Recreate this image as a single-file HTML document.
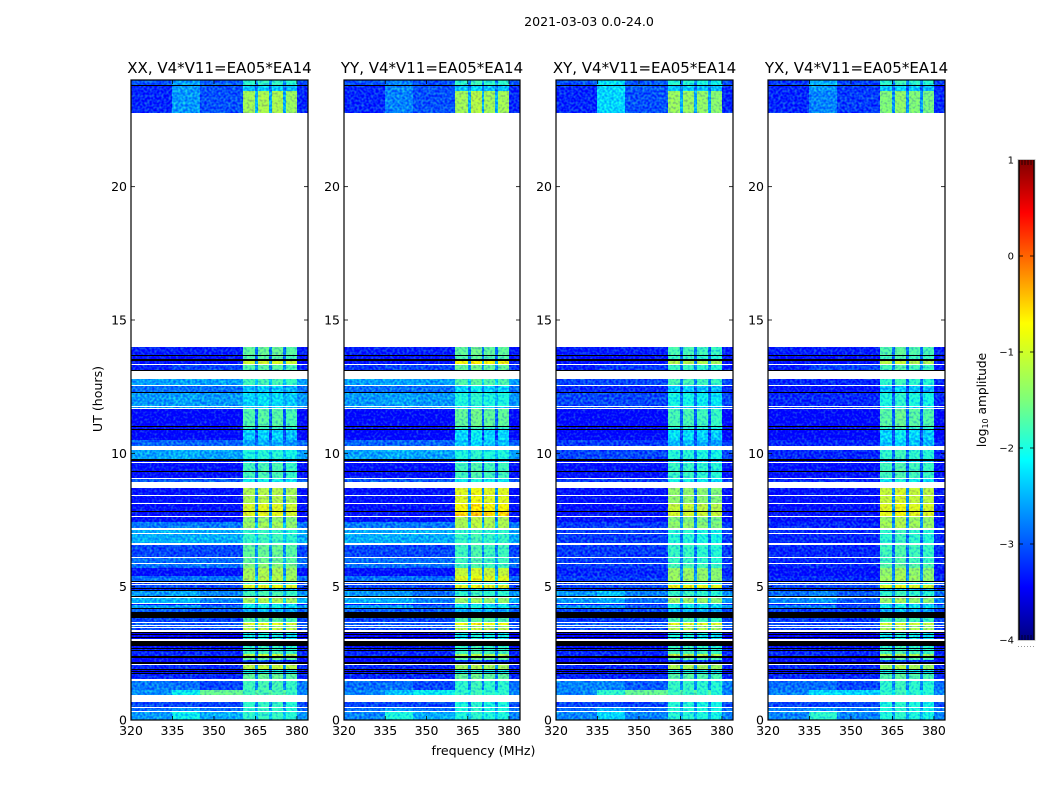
<!DOCTYPE html>
<html lang="en">
<head>
<meta charset="utf-8">
<title>2021-03-03 0.0-24.0</title>
<style>
html,body{margin:0;padding:0;background:#fff;width:1050px;height:800px;overflow:hidden}
svg{display:block}
text{font-family:"DejaVu Sans","Liberation Sans",sans-serif;fill:#000}
</style>
</head>
<body>
<svg id="figure" xmlns="http://www.w3.org/2000/svg" width="1050" height="800" viewBox="0 0 1050 800">
<defs>
<filter id="speckle" x="0" y="0" width="1" height="1" color-interpolation-filters="sRGB">
<feTurbulence type="fractalNoise" baseFrequency="0.42" numOctaves="1" seed="7" result="n"/>
<feColorMatrix in="n" type="matrix" values="0.8 0 0 0 0.1  2 0 0 0 -0.55  -0.6 0 0 0 0.8  0 0 0 0 1" result="nc"/>
<feComposite in="SourceGraphic" in2="nc" operator="arithmetic" k1="0" k2="1" k3="0.5" k4="-0.25" result="mix"/>
<feComposite in="mix" in2="SourceGraphic" operator="in"/>
</filter>
<linearGradient id="jet-gradient" x1="0" y1="0" x2="0" y2="1">
<stop offset="0" stop-color="#800000"/>
<stop offset="0.11" stop-color="#ff0000"/>
<stop offset="0.34" stop-color="#ffff00"/>
<stop offset="0.36" stop-color="#f0ff07"/>
<stop offset="0.5" stop-color="#7dff7a"/>
<stop offset="0.625" stop-color="#00ffff"/>
<stop offset="0.65" stop-color="#00e5ff"/>
<stop offset="0.89" stop-color="#0000ff"/>
<stop offset="1" stop-color="#000080"/>
</linearGradient>
</defs>
<rect x="0" y="0" width="1050" height="800" fill="#fff"/>
<text x="589" y="26" font-size="12.6" text-anchor="middle">2021-03-03 0.0-24.0</text>
<text x="483.500" y="755" font-size="12.6" text-anchor="middle">frequency (MHz)</text>
<text x="0" y="0" font-size="12.6" text-anchor="middle" transform="translate(102 399) rotate(-90)">UT (hours)</text>
<g id="panels"></g>
<g id="colorbar"></g>
</svg>
<script>
// ---------- shared data ----------
const panelTitles = ["XX, V4*V11=EA05*EA14", "YY, V4*V11=EA05*EA14", "XY, V4*V11=EA05*EA14", "YX, V4*V11=EA05*EA14"];
const xTickLabels = [320, 335, 350, 365, 380];
const yTickLabels = [0, 5, 10, 15, 20];
const colorbarTicks = [1, 0, -1, -2, -3, -4];

// Channel groups: MHz edges and which level column each group reads
const channelEdges = [320, 335, 345, 360.4, 365, 366, 370, 371, 375, 376, 380, 384];
const channelKinds = ["low", "mid", "far", "b0", "gap", "b1", "gap", "b2", "gap", "b3", "low"];

// Time rows: top edge in hours; d = data, k = flagged black, w = no data white
const rowTopHours = [24,23.81,23.78,23.59,22.76,13.97,13.69,13.65,13.52,13.46,13.35,13.31,13.13,13.09,12.79,12.58,12.54,12.3,12.27,11.79,11.75,11.7,11.66,11.03,10.99,10.9,10.86,10.5,10.28,10.13,9.79,9.72,9.68,9.64,9.34,9.3,9.08,9.04,8.93,8.7,8.44,8.4,8.14,8.1,7.84,7.8,7.65,7.61,7.43,7.2,7.13,7.01,6.98,6.64,6.56,6.11,6.08,5.89,5.85,5.7,5.4,5.21,5.18,5.14,5.1,5.06,4.95,4.91,4.88,4.84,4.65,4.61,4.58,4.39,4.35,4.31,4.2,4.16,4.05,3.83,3.68,3.64,3.56,3.53,3.49,3.45,3.38,3.3,3.26,3.23,3.19,3.11,3.08,3.04,2.96,2.78,2.7,2.66,2.63,2.59,2.48,2.4,2.33,2.25,2.18,2.1,2.06,1.91,1.88,1.84,1.8,1.76,1.73,1.54,1.46,1.13,0.94,0.68,0.49,0.45,0.34,0.3];
const rowFlags = "dkddwdkdkdwdkwdwdkdwdwdkdkddwdkdwdkdwdwdwdwdkdwddwdwdwdwdwdddkwdwdkdkdkwdwddkdkdwdwdwdwkdkdkdwkdkdkddkddkwdkdkdkdwddwdwdwd".split("");

// log10 amplitude per data row, top to bottom: [320-335, 335-345, 345-360, high band]
const levelsXX = [[-2.95,-2.55,-2.9,-2],[-3.15,-2.6,-2.95,-2.4],[-3.15,-2.6,-2.95,-1.3],[-3.2,-3.2,-3.2,-1.7],[-3.25,-3.25,-3.25,-1.8],[-3.25,-3.25,-3.25,-1.05],[-3.2,-3,-3,-1.8],[-2.55,-2.55,-2.55,-1.9],[-2.8,-2.8,-2.8,-2.4],[-2.6,-2.55,-2.6,-2.3],[-2.65,-2.65,-2.65,-2.4],[-3.3,-3.3,-3.3,-1.8],[-3.25,-3.25,-3.25,-2],[-3.3,-3.3,-3.3,-2.35],[-2.85,-2.85,-2.85,-2.55],[-2.55,-2.5,-2.55,-2.1],[-3.25,-3.25,-3.25,-2.5],[-3.25,-3.25,-3.25,-1.9],[-3.25,-3.25,-3.25,-1.9],[-2.9,-2.9,-2.9,-2.2],[-3.25,-3.25,-3.25,-1.25],[-3.25,-3.25,-3.25,-1.25],[-3.25,-3.25,-3.25,-1],[-3.25,-3.25,-3.25,-0.95],[-3.25,-3.25,-3.25,-1.45],[-2.75,-2.75,-2.75,-1.35],[-2.5,-2.5,-2.5,-2],[-2.5,-2.5,-2.5,-1.95],[-3,-3,-3,-1.7],[-2.8,-2.8,-2.8,-1.7],[-2.8,-2.8,-2.8,-1.5],[-3.25,-3.25,-3.25,-1.3],[-2.8,-2.8,-2.8,-1.25],[-3,-3,-3,-2],[-3,-3,-3,-0.95],[-3.15,-3.15,-3.15,-2.5],[-2.6,-2.5,-2.7,-1.9],[-2.45,-2.45,-2.7,-1.3],[-3.25,-3.25,-3.25,-2.4],[-2.55,-2.55,-2.8,-2.2],[-2.9,-2.9,-2.9,-2.5],[-3,-3,-3,-1.8],[-2.9,-2.9,-2.9,-0.95],[-2.9,-2.9,-2.9,-1.5],[-3,-3,-3,-1.15],[-3.45,-3.45,-3.45,-2.2],[-3.45,-3.45,-3.45,-2.2],[-3.45,-3.45,-3.45,-2.2],[-3.25,-3.25,-3.25,-2],[-3.15,-3.15,-3.15,-2],[-3.15,-3.15,-3.15,-1.9],[-3.15,-3.15,-3.15,-1.15],[-3.3,-3.3,-3.3,-1.7],[-3.3,-3.3,-3.3,-3],[-3.15,-3.15,-3.15,-1.15],[-3.25,-3.25,-3.25,-2.2],[-3.25,-3.25,-3.25,-2.2],[-3.15,-3.15,-3.15,-1.7],[-2.75,-2.8,-3,-1.9],[-2.65,-2.2,-1.65,-1.9],[-3,-3,-3,-2],[-2.8,-2.6,-2.8,-2],[-2.6,-2.2,-2.5,-2]];
const levelsYY = [[-2.95,-2.7,-2.95,-2],[-3.15,-2.7,-2.95,-2.4],[-3.15,-2.7,-2.95,-1.3],[-3.2,-3.2,-3.2,-1.7],[-3.25,-3.25,-3.25,-1.8],[-3.25,-3.25,-3.25,-0.8],[-3.1,-3,-3,-1.7],[-2.55,-2.55,-2.55,-1.8],[-2.8,-2.8,-2.8,-2.3],[-2.6,-2.55,-2.6,-2.1],[-2.65,-2.65,-2.65,-2.3],[-3.3,-3.3,-3.3,-1.7],[-3.25,-3.25,-3.25,-2],[-3.3,-3.3,-3.3,-2.3],[-2.85,-2.85,-2.85,-2.4],[-2.55,-2.5,-2.55,-2.1],[-3.25,-3.25,-3.25,-2.4],[-3.25,-3.25,-3.25,-1.9],[-3.25,-3.25,-3.25,-1.9],[-2.9,-2.9,-2.9,-2.2],[-3.25,-3.25,-3.25,-0.95],[-3.25,-3.25,-3.25,-0.95],[-3.25,-3.25,-3.25,-0.8],[-3.25,-3.25,-3.25,-0.6],[-3.25,-3.25,-3.25,-1.25],[-2.75,-2.75,-2.75,-1.25],[-2.5,-2.5,-2.5,-2],[-2.5,-2.5,-2.5,-1.95],[-3,-3,-3,-1.9],[-2.8,-2.8,-2.8,-1.9],[-2.8,-2.8,-2.8,-1.9],[-3.25,-3.25,-3.25,-1.1],[-2.8,-2.8,-2.8,-0.95],[-3,-3,-3,-2.1],[-3,-3,-3,-0.95],[-3.15,-3.15,-3.15,-2.5],[-2.6,-2.6,-2.8,-2],[-2.5,-2.5,-2.7,-1.4],[-3.25,-3.25,-3.25,-2.4],[-2.55,-2.55,-2.8,-2.2],[-2.9,-2.9,-2.9,-2.5],[-3,-3,-3,-1.8],[-2.9,-2.9,-2.9,-0.85],[-2.9,-2.9,-2.9,-1.5],[-3,-3,-3,-1.15],[-3.45,-3.45,-3.45,-2.2],[-3.45,-3.45,-3.45,-2.2],[-3.45,-3.45,-3.45,-2.2],[-3.25,-3.25,-3.25,-2],[-3.15,-3.15,-3.15,-2],[-3.15,-3.15,-3.15,-1.9],[-3.15,-3.15,-3.15,-1.25],[-3.3,-3.3,-3.3,-1.7],[-3.3,-3.3,-3.3,-3],[-3.15,-3.15,-3.15,-1.3],[-3.25,-3.25,-3.25,-2.2],[-3.25,-3.25,-3.25,-2.2],[-3.15,-3.15,-3.15,-1.7],[-2.8,-2.8,-3,-2],[-2.7,-2.4,-2.2,-2],[-3,-3,-3,-2.1],[-2.8,-2.6,-2.8,-2.1],[-2.7,-2.1,-2.5,-2.1]];
const levelsXY = [[-2.95,-2.25,-2.9,-2.1],[-3.15,-2.3,-2.9,-2.4],[-3.15,-2.3,-2.95,-1.4],[-3.2,-3.2,-3.2,-1.9],[-3.25,-3.25,-3.25,-2],[-3.25,-3.25,-3.25,-1.25],[-3.2,-3.05,-3.05,-2],[-3,-3,-3,-1.9],[-3.15,-3.15,-3.15,-2.4],[-3,-3,-3,-2.2],[-3,-3,-3,-2.4],[-3.3,-3.3,-3.3,-1.9],[-3.25,-3.25,-3.25,-2.1],[-3.3,-3.3,-3.3,-2.3],[-3.05,-3.05,-3.05,-2.5],[-3,-3,-3,-2.1],[-3.25,-3.25,-3.25,-2.4],[-3.25,-3.25,-3.25,-2],[-3.25,-3.25,-3.25,-2],[-3.05,-3.05,-3.05,-2.2],[-3.25,-3.25,-3.25,-1.45],[-3.25,-3.25,-3.25,-1.45],[-3.25,-3.25,-3.25,-1.15],[-3.25,-3.25,-3.25,-1.05],[-3.25,-3.25,-3.25,-1.55],[-3.05,-3.05,-3.05,-1.45],[-3.05,-3.05,-3.05,-2.1],[-3.05,-3.05,-3.05,-2.1],[-3.05,-3.05,-3.05,-2],[-3.05,-3.05,-3.05,-2],[-3.05,-3.05,-3.05,-1.9],[-3.15,-3.15,-3.15,-1.4],[-3.05,-3.05,-3.05,-1.4],[-3,-3,-3,-2.1],[-3,-3,-3,-0.9],[-3.15,-3.15,-3.15,-2.5],[-2.6,-2.4,-2.7,-2],[-2.6,-2.5,-2.8,-1.4],[-3.25,-3.25,-3.25,-2.4],[-2.6,-2.6,-2.9,-2.2],[-3,-3,-3,-2.5],[-3.05,-3.05,-3.05,-1.9],[-2.9,-2.9,-2.9,-0.95],[-2.9,-2.9,-2.9,-1.5],[-3,-3,-3,-1.25],[-3.45,-3.45,-3.45,-2.2],[-3.45,-3.45,-3.45,-2.2],[-3.45,-3.45,-3.45,-2.2],[-3.25,-3.25,-3.25,-2],[-3.15,-3.15,-3.15,-2],[-3.15,-3.15,-3.15,-1.9],[-3.15,-3.15,-3.15,-1.15],[-3.3,-3.3,-3.3,-1.8],[-3.3,-3.3,-3.3,-3],[-3.15,-3.15,-3.15,-1.3],[-3.25,-3.25,-3.25,-2.2],[-3.25,-3.25,-3.25,-2.2],[-3.15,-3.15,-3.15,-1.8],[-2.7,-2.7,-2.9,-2],[-2.7,-2,-1.65,-2],[-3,-3,-3,-2.1],[-2.8,-2.5,-2.8,-2.1],[-2.7,-2.3,-2.7,-2.1]];
const levelsYX = [[-3.05,-2.5,-3,-2],[-3.15,-2.6,-3.05,-2.4],[-3.15,-2.7,-3.05,-1.5],[-3.2,-3.2,-3.2,-1.8],[-3.25,-3.25,-3.25,-1.9],[-3.25,-3.25,-3.25,-1.2],[-3.2,-3,-3,-1.9],[-3.15,-3.15,-3.15,-2],[-3.25,-3.25,-3.25,-2.4],[-3.15,-3.15,-3.15,-2.1],[-3.15,-3.15,-3.15,-2.3],[-3.3,-3.3,-3.3,-1.75],[-3.25,-3.25,-3.25,-2],[-3.3,-3.3,-3.3,-2.3],[-3.15,-3.15,-3.15,-2.4],[-3.15,-3.15,-3.15,-2],[-3.25,-3.25,-3.25,-2.4],[-3.25,-3.25,-3.25,-1.9],[-3.25,-3.25,-3.25,-1.9],[-3.15,-3.15,-3.15,-2.2],[-3.25,-3.25,-3.25,-1.1],[-3.25,-3.25,-3.25,-1.1],[-3.25,-3.25,-3.25,-0.95],[-3.25,-3.25,-3.25,-0.9],[-3.25,-3.25,-3.25,-1.35],[-3.15,-3.15,-3.15,-1.3],[-3.15,-3.15,-3.15,-2],[-3.15,-3.15,-3.15,-2],[-3.15,-3.15,-3.15,-1.9],[-3.15,-3.15,-3.15,-1.9],[-3.15,-3.15,-3.15,-1.75],[-3.25,-3.25,-3.25,-1.4],[-3.15,-3.15,-3.15,-1.35],[-3,-3,-3,-2.1],[-3,-3,-3,-1],[-3.15,-3.15,-3.15,-2.5],[-2.8,-2.7,-2.9,-2],[-2.7,-2.6,-2.9,-1.4],[-3.25,-3.25,-3.25,-2.4],[-2.7,-2.7,-3,-2.2],[-3.05,-3.05,-3.05,-2.5],[-3.05,-3.05,-3.05,-1.9],[-3,-3,-3,-1.05],[-3,-3,-3,-1.5],[-3.05,-3.05,-3.05,-1.25],[-3.45,-3.45,-3.45,-2.2],[-3.45,-3.45,-3.45,-2.2],[-3.45,-3.45,-3.45,-2.2],[-3.25,-3.25,-3.25,-2],[-3.15,-3.15,-3.15,-2],[-3.15,-3.15,-3.15,-1.9],[-3.15,-3.15,-3.15,-1.25],[-3.3,-3.3,-3.3,-1.8],[-3.3,-3.3,-3.3,-3],[-3.15,-3.15,-3.15,-1.3],[-3.25,-3.25,-3.25,-2.2],[-3.25,-3.25,-3.25,-2.2],[-3.15,-3.15,-3.15,-1.8],[-2.8,-2.8,-3,-2],[-2.7,-2.3,-2.3,-2],[-3,-3,-3,-2.1],[-2.7,-2.6,-2.7,-2.1],[-2.7,-2,-2.7,-2.1]];

// Relative level of each of the four high-band blocks
const blockGainXX = [0, 0.05, 0.05, -0.05];
const blockGainYY = [0, 0.1, 0, 0];
const blockGainXY = [0.05, 0.05, 0, -0.05];
const blockGainYX = [0, 0.1, 0, -0.05];

// Axis geometry
const panelLefts = [131, 344, 556, 768];
const panelRights = [308, 520, 733, 945];
const plotTop = 80;
const plotBottom = 720;
const freqMin = 320;
const freqMax = 384;
const hourMin = 0;
const hourMax = 24;
const cbarLeft = 1019;
const cbarRight = 1034;
const cbarTop = 160;
const cbarBottom = 640;
const cbarMin = -4;
const cbarMax = 1;

const svgNS = "http://www.w3.org/2000/svg";
function make(tag, attrs, parent) {
  const el = document.createElementNS(svgNS, tag);
  for (const k in attrs) el.setAttribute(k, attrs[k]);
  parent.appendChild(el);
  return el;
}
function xScale(p, mhz) {
  return panelLefts[p] + (mhz - freqMin) / (freqMax - freqMin) * (panelRights[p] - panelLefts[p]);
}
function yScale(h) {
  return plotBottom - (h - hourMin) / (hourMax - hourMin) * (plotBottom - plotTop);
}
function cbarScale(v) {
  return cbarBottom - (v - cbarMin) / (cbarMax - cbarMin) * (cbarBottom - cbarTop);
}
function ramp(t, xs, ys) {
  if (t <= xs[0]) return ys[0];
  for (let i = 1; i < xs.length; i++) {
    if (t <= xs[i]) return ys[i - 1] + (ys[i] - ys[i - 1]) * (t - xs[i - 1]) / (xs[i] - xs[i - 1]);
  }
  return ys[ys.length - 1];
}
function jet(v) {
  const t = (v - cbarMin) / (cbarMax - cbarMin);
  const r = ramp(t, [0, 0.35, 0.66, 0.89, 1], [0, 0, 1, 1, 0.5]);
  const g = ramp(t, [0, 0.125, 0.375, 0.64, 0.91, 1], [0, 0, 1, 1, 0, 0]);
  const b = ramp(t, [0, 0.11, 0.34, 0.65, 1], [0.5, 1, 1, 0, 0]);
  return "rgb(" + Math.round(r * 255) + "," + Math.round(g * 255) + "," + Math.round(b * 255) + ")";
}
function cellValue(levels, gains, kind) {
  if (kind === "low") return levels[0];
  if (kind === "mid") return levels[1];
  if (kind === "far") return levels[2];
  if (kind === "gap") return levels[2] * 0.72 + levels[3] * 0.28;
  return levels[3] + gains[Number(kind.slice(1))];
}

const panelsRoot = document.getElementById("panels");
const allLevels = [levelsXX, levelsYY, levelsXY, levelsYX];
const allGains = [blockGainXX, blockGainYY, blockGainXY, blockGainYX];

panelTitles.forEach(function (title, p) {
  const panel = make("g", {}, panelsRoot);
  
  

  const heat = make("g", { filter: "url(#speckle)", "shape-rendering": "crispEdges" }, panel);
  
  
  const flagged = make("g", { "shape-rendering": "crispEdges" }, panel);
  
  

  let dataIndex = 0;
  rowTopHours.forEach(function (top, r) {
    const bottom = r + 1 < rowTopHours.length ? rowTopHours[r + 1] : hourMin;
    const y0 = Math.round(yScale(top));
    const y1 = Math.round(yScale(bottom));
    const flag = rowFlags[r];
    if (flag === "k") {
      const line = make("rect", { x: panelLefts[p], y: y0, width: panelRights[p] - panelLefts[p], height: y1 - y0, fill: "#000" }, flagged);
      
      
    } else if (flag === "d") {
      const levels = allLevels[p][dataIndex];
      dataIndex++;
      channelKinds.forEach(function (kind, c) {
        const x0 = Math.round(xScale(p, channelEdges[c]));
        const x1 = Math.round(xScale(p, channelEdges[c + 1]));
        const cell = make("rect", { x: x0, y: y0, width: x1 - x0, height: y1 - y0, fill: jet(cellValue(levels, allGains[p], kind)) }, heat);
        
        
      });
    }
  });

  const left = panelLefts[p];
  const right = panelRights[p];

  const frame = make("rect", { x: left, y: plotTop, width: right - left, height: plotBottom - plotTop, fill: "none", stroke: "#000", "stroke-width": 1.2 }, panel);
  
  

  const heading = make("text", { x: (left + right) / 2, y: 73, "font-size": 15, "text-anchor": "middle" }, panel);
  
  
  heading.textContent = title;

  xTickLabels.forEach(function (v) {
    const x = xScale(p, v);
    const tickB = make("line", { x1: x, x2: x, y1: plotBottom, y2: plotBottom - 4, stroke: "#000", "stroke-width": 0.8 }, panel);
    
    
    const tickT = make("line", { x1: x, x2: x, y1: plotTop, y2: plotTop + 4, stroke: "#000", "stroke-width": 0.8 }, panel);
    
    
    const label = make("text", { x: x, y: 735, "font-size": 12.5, "text-anchor": "middle" }, panel);
    
    
    label.textContent = v;
  });

  yTickLabels.forEach(function (v) {
    const y = yScale(v);
    const tickL = make("line", { x1: left, x2: left + 4, y1: y, y2: y, stroke: "#000", "stroke-width": 0.8 }, panel);
    
    
    const tickR = make("line", { x1: right, x2: right - 4, y1: y, y2: y, stroke: "#000", "stroke-width": 0.8 }, panel);
    
    
    const label = make("text", { x: left - 4, y: y + 4.5, "font-size": 12.5, "text-anchor": "end" }, panel);
    
    
    label.textContent = v;
  });
});

// ---------- colorbar ----------
const cbarRoot = document.getElementById("colorbar");
const cbarFill = make("rect", { x: cbarLeft, y: cbarTop, width: cbarRight - cbarLeft, height: cbarBottom - cbarTop, fill: "url(#jet-gradient)" }, cbarRoot);


const cbarOutline = make("rect", { x: cbarLeft - 1, y: cbarTop - 0.5, width: cbarRight - cbarLeft + 2, height: cbarBottom - cbarTop + 1, fill: "none", stroke: "#bbb", "stroke-width": 0.8 }, cbarRoot);


const cbarFrameLeft = make("line", { x1: cbarLeft, x2: cbarLeft, y1: cbarTop, y2: cbarBottom, stroke: "#000", "stroke-width": 1.4 }, cbarRoot);


const cbarFrameRight = make("line", { x1: cbarRight, x2: cbarRight, y1: cbarTop, y2: cbarBottom, stroke: "#000", "stroke-width": 1.4 }, cbarRoot);



for (let i = 1; i <= 4; i++) {
  const x = cbarLeft + i * 3;
  const minorTop = make("line", { x1: x, x2: x, y1: cbarTop, y2: cbarTop + 5, stroke: "#000", "stroke-width": 0.7 }, cbarRoot);
  
  
  const minorBottom = make("line", { x1: x, x2: x, y1: cbarBottom, y2: cbarBottom - 5, stroke: "#000", "stroke-width": 0.7 }, cbarRoot);
  
  
}
for (let i = 0; i < 6; i++) {
  const dot = make("rect", { x: 1018 + i * 3, y: 646, width: 1, height: 1, fill: "#999" }, cbarRoot);
  
  
}

colorbarTicks.slice(1, 5).forEach(function (v) {
  const y = cbarScale(v);
  const markL = make("line", { x1: cbarLeft, x2: cbarLeft + 4, y1: y, y2: y, stroke: "#000", "stroke-width": 0.8 }, cbarRoot);
  
  
  const markR = make("line", { x1: cbarRight, x2: cbarRight - 4, y1: y, y2: y, stroke: "#000", "stroke-width": 0.8 }, cbarRoot);
  
  
});
colorbarTicks.forEach(function (v) {
  const y = cbarScale(v);
  const label = make("text", { x: cbarLeft - 5, y: y + 3.5, "font-size": 10, "text-anchor": "end" }, cbarRoot);
  
  
  label.textContent = v < 0 ? "\u2212" + Math.abs(v) : String(v);
});

const cbarTitle = make("text", { x: 0, y: 0, "font-size": 12.2, "text-anchor": "middle", transform: "translate(986 400) rotate(-90)" }, cbarRoot);


cbarTitle.textContent = "log";
const cbarSub = make("tspan", { "font-size": 8, dy: 2 }, cbarTitle);
cbarSub.textContent = "10";
const cbarRest = make("tspan", { dy: -2 }, cbarTitle);
cbarRest.textContent = " amplitude";
</script>
</body>
</html>
